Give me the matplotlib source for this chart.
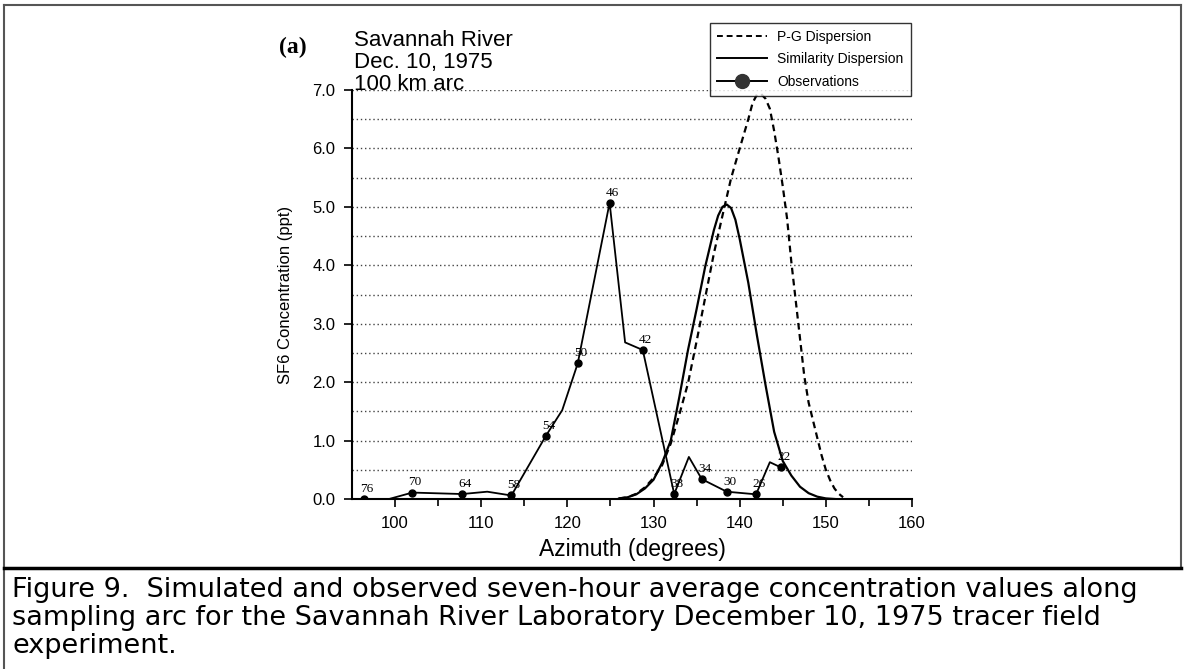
import matplotlib
matplotlib.use("Agg")
import matplotlib.pyplot as plt
from matplotlib.lines import Line2D

plt.rcParams['font.family'] = ['Liberation Sans', 'DejaVu Sans']

# ---------------- data ----------------
# P-G dispersion (dashed)
pg_x = [126, 127, 128, 129, 130, 131, 132, 133, 134, 135, 136, 137, 138, 139, 140,
        141, 141.5, 142, 142.5, 143, 143.5, 144, 144.5, 145, 145.5, 146, 146.5, 147,
        147.5, 148, 148.5, 149, 149.5, 150, 150.5, 151, 151.5, 152]
pg_y = [0.01, 0.03, 0.09, 0.20, 0.36, 0.58, 0.95, 1.45, 1.98, 2.70, 3.45, 4.20, 4.85, 5.49, 6.00,
        6.50, 6.78, 6.92, 6.93, 6.85, 6.68, 6.30, 5.85, 5.35, 4.80, 4.05, 3.40, 2.75,
        2.10, 1.65, 1.35, 1.05, 0.75, 0.50, 0.32, 0.18, 0.09, 0.03]

# Similarity dispersion (solid)
sim_x = [126, 127, 128, 129, 130, 131, 132, 133, 134, 135, 136, 137, 137.5, 138, 138.5,
         139, 139.5, 140, 141, 142, 143, 144, 145, 146, 147, 148, 149, 150, 151]
sim_y = [0.01, 0.03, 0.08, 0.18, 0.33, 0.62, 1.00, 1.75, 2.55, 3.25, 3.98, 4.60, 4.85, 5.00, 5.04,
         4.98, 4.78, 4.45, 3.70, 2.80, 1.95, 1.15, 0.65, 0.40, 0.21, 0.10, 0.04, 0.01, 0.0]

# Observations (line vertices; labelled ones are the sampler points)
obs_x = [96.4, 99.3, 102.0, 107.8, 110.7, 113.5, 117.5, 119.4, 121.2, 124.9, 126.7,
         128.75, 132.4, 134.1, 135.6, 138.5, 141.9, 143.5, 144.8]
obs_y = [0.0, 0.0, 0.11, 0.085, 0.125, 0.06, 1.08, 1.52, 2.32, 5.07, 2.68,
         2.55, 0.085, 0.72, 0.34, 0.125, 0.08, 0.63, 0.54]
obs_lab = ['76', '', '70', '64', '', '58', '54', '', '50', '46', '',
           '42', '38', '', '34', '30', '26', '', '22']

x_ticks = [100, 110, 120, 130, 140, 150, 160]
x_tick_labels = ['100', '110', '120', '130', '140', '150', '160']
y_ticks = [0, 1, 2, 3, 4, 5, 6, 7]
y_tick_labels = ['0.0', '1.0', '2.0', '3.0', '4.0', '5.0', '6.0', '7.0']
y_grid = [0.5, 1.0, 1.5, 2.0, 2.5, 3.0, 3.5, 4.0, 4.5, 5.0, 5.5, 6.0, 6.5, 7.0]

caption_lines = [
    "Figure 9.  Simulated and observed seven-hour average concentration values along",
    "sampling arc for the Savannah River Laboratory December 10, 1975 tracer field",
    "experiment.",
]

# ---------------- figure ----------------
W, H = 1185, 669
fig = plt.figure(figsize=(W / 100, H / 100), dpi=100)
fig.patch.set_facecolor('white')

L, R, T, B = 352, 912, 90, 499
ax = fig.add_axes([L / W, 1 - B / H, (R - L) / W, (B - T) / H])
ax.set_xlim(95, 160)
ax.set_ylim(0, 7)

for g in y_grid:
    ax.axhline(g, color='#444444', lw=1.0, ls=(0, (1, 2)), zorder=1)

ax.plot(pg_x, pg_y, color='black', lw=1.6, ls=(0, (3, 2)), zorder=3)
ax.plot(sim_x, sim_y, color='black', lw=1.6, ls='-', zorder=3)
ax.plot(obs_x, obs_y, color='black', lw=1.3, zorder=4)
mx = [x for x, l in zip(obs_x, obs_lab) if l]
my = [y for y, l in zip(obs_y, obs_lab) if l]
ax.plot(mx, my, ls='none', marker='o', ms=5, color='black', zorder=5)
for x, y, l in zip(obs_x, obs_y, obs_lab):
    if l:
        ax.annotate(l, (x, y), xytext=(2, 3), textcoords='offset points',
                    ha='center', va='bottom', fontsize=9.5,
                    family=['Liberation Serif', 'DejaVu Serif'], zorder=6)

handles = [
    Line2D([], [], color='black', lw=1.4, ls=(0, (3, 2))),
    Line2D([], [], color='black', lw=1.4),
    Line2D([], [], color='black', lw=1.4, marker='o', ms=10, markerfacecolor='#333333',
           markeredgecolor='#333333'),
]
leg = fig.legend(handles, ['P-G Dispersion', 'Similarity Dispersion', 'Observations'],
                 loc='upper left', bbox_to_anchor=(710 / W, 1 - 23 / H),
                 frameon=True, fancybox=False, edgecolor='black', fontsize=10,
                 handlelength=3.6, borderpad=0.5, labelspacing=0.6, handletextpad=0.75,
                 borderaxespad=0)
leg.get_frame().set_linewidth(1.0)

ax.spines['top'].set_visible(False)
ax.spines['right'].set_visible(False)
ax.spines['left'].set_linewidth(1.5)
ax.spines['bottom'].set_linewidth(1.5)

ax.set_xticks(x_ticks)
ax.set_xticklabels(x_tick_labels, fontsize=12)
ax.set_xticks([105, 115, 125, 135, 145, 155], minor=True)
ax.set_yticks(y_ticks)
ax.set_yticklabels(y_tick_labels, fontsize=12)
ax.tick_params(axis='both', which='major', direction='out', length=6, width=1.2, pad=6)
ax.tick_params(axis='x', which='minor', direction='out', length=5, width=1.2)

ax.set_xlabel('Azimuth (degrees)', fontsize=16.5, labelpad=5)
ax.set_ylabel('SF6 Concentration (ppt)', fontsize=12, labelpad=14)

# titles
fig.text(293 / W, 1 - 47 / H, '(a)', fontsize=17, fontweight='bold',
         family=['Liberation Serif', 'DejaVu Serif'], ha='center', va='center')
fig.text(354 / W, 1 - 46 / H, 'Savannah River', fontsize=16, va='baseline')
fig.text(354 / W, 1 - 68 / H, 'Dec. 10, 1975', fontsize=16, va='baseline')
fig.text(354 / W, 1 - 90 / H, '100 km arc', fontsize=16, va='baseline')

# frame
fig.add_artist(Line2D([4 / W, 1181 / W], [1 - 5 / H, 1 - 5 / H], color='#555555', lw=1.5))
fig.add_artist(Line2D([4 / W, 4 / W], [0, 1 - 5 / H], color='#555555', lw=1.5))
fig.add_artist(Line2D([1181 / W, 1181 / W], [1 - 568 / H, 1 - 5 / H], color='#555555', lw=1.5))
fig.add_artist(Line2D([4 / W, 1181 / W], [1 - 568 / H, 1 - 568 / H], color='black', lw=2.5))

# caption
for i, line in enumerate(caption_lines):
    fig.text(12 / W, 1 - (590 + i * 28) / H, line, fontsize=19.5, va='center', ha='left',
             family=['DejaVu Sans'])

fig.savefig('out.png', dpi=100, facecolor='white')
